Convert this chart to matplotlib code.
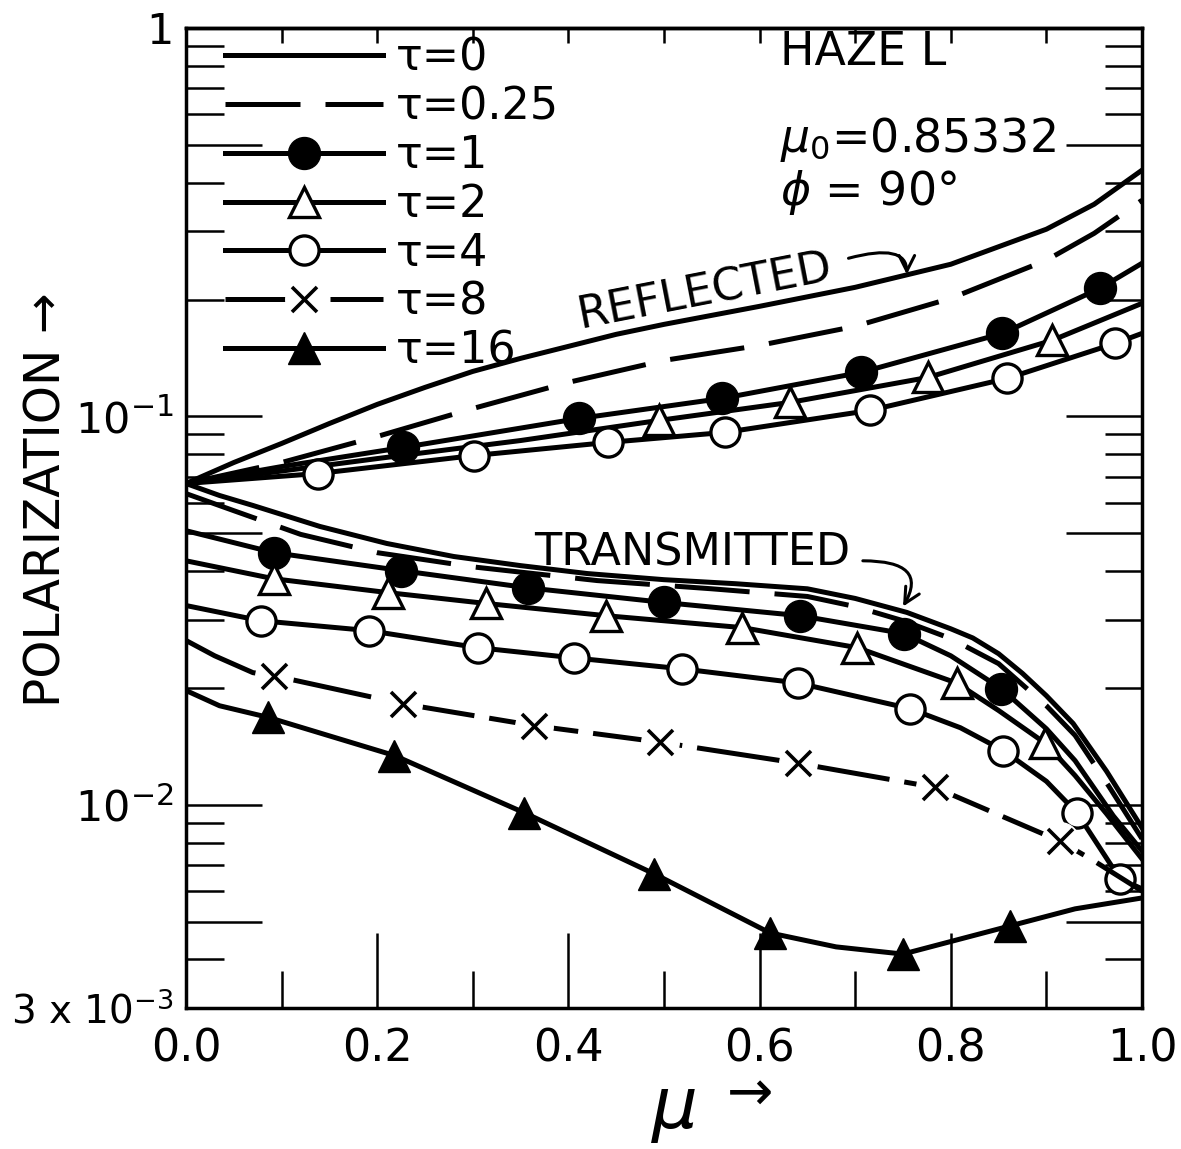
import numpy as np
import matplotlib.pyplot as plt
from matplotlib.ticker import (FixedLocator, FixedFormatter, LogLocator,
                               NullFormatter, MultipleLocator, FormatStrFormatter)
from matplotlib.legend_handler import HandlerTuple

plt.rcParams['font.family'] = ['DejaVu Sans']
plt.rcParams['mathtext.fontset'] = 'dejavusans'

# ---- reflected polarization ----
mu_r0 = [0, 0.05, 0.1, 0.15, 0.2, 0.25, 0.3, 0.35, 0.4, 0.45, 0.5, 0.6, 0.7, 0.8, 0.9, 0.95, 1.0]
p_r0 = [0.0672, 0.0761, 0.0852, 0.0959, 0.1074, 0.1188, 0.1306, 0.1411, 0.1515, 0.1627, 0.1726,
        0.1921, 0.2150, 0.2465, 0.3034, 0.3518, 0.4305]

mu_r025 = [0, 0.1, 0.2, 0.3, 0.4, 0.5, 0.6, 0.7, 0.8, 0.9, 0.95, 1.0]
p_r025 = [0.0672, 0.0761, 0.0888, 0.1048, 0.1224, 0.1394, 0.1524, 0.1706, 0.2014, 0.2524, 0.2961, 0.3602]

mu_r1 = [0, 0.1, 0.227, 0.411, 0.561, 0.706, 0.854, 0.956, 1.0]
p_r1 = [0.0672, 0.0743, 0.0832, 0.0988, 0.1113, 0.1298, 0.1636, 0.2137, 0.2479]
mk_r1 = [2, 3, 4, 5, 6, 7]

mu_r2 = [0, 0.2, 0.35, 0.495, 0.632, 0.776, 0.906, 1.0]
p_r2 = [0.0672, 0.0779, 0.0867, 0.0977, 0.1087, 0.1260, 0.1570, 0.1955]
mk_r2 = [3, 4, 5, 6]

mu_r4 = [0, 0.138, 0.301, 0.441, 0.564, 0.715, 0.859, 0.972, 1.0]
p_r4 = [0.0672, 0.0713, 0.0793, 0.0857, 0.0910, 0.1036, 0.1253, 0.1542, 0.1636]
mk_r4 = [1, 2, 3, 4, 5, 6, 7]

# ---- transmitted polarization ----
mu_t0 = [0, 0.035, 0.07, 0.14, 0.21, 0.28, 0.35, 0.42, 0.5, 0.575, 0.65, 0.7, 0.754, 0.8,
         0.823, 0.85, 0.875, 0.9, 0.928, 0.963, 1.0]
p_t0 = [0.0672, 0.0626, 0.0590, 0.0521, 0.0471, 0.0436, 0.0413, 0.0394, 0.0380, 0.0371, 0.0360,
        0.0340, 0.0313, 0.0284, 0.0269, 0.0245, 0.0218, 0.0191, 0.0162, 0.0122, 0.00873]

mu_t025 = [0, 0.05, 0.12, 0.2, 0.3, 0.43, 0.55, 0.65, 0.7, 0.75, 0.8, 0.85, 0.9, 0.93, 0.965, 1.0]
p_t025 = [0.0633, 0.0572, 0.0497, 0.0446, 0.0410, 0.0378, 0.0360, 0.0344, 0.0324, 0.0298, 0.0268,
          0.0231, 0.0180, 0.0151, 0.0112, 0.00818]

mu_t1 = [0, 0.092, 0.225, 0.358, 0.5, 0.642, 0.751, 0.8, 0.853, 0.9, 0.93, 0.97, 1.0]
p_t1 = [0.0508, 0.0446, 0.0401, 0.0362, 0.0332, 0.0307, 0.0276, 0.0242, 0.0199, 0.0157, 0.0130,
        0.00937, 0.00761]
mk_t1 = [1, 2, 3, 4, 5, 6, 8]

mu_t2 = [0, 0.092, 0.211, 0.314, 0.439, 0.582, 0.702, 0.806, 0.85, 0.899, 0.93, 0.963, 1.0]
p_t2 = [0.0425, 0.0382, 0.0352, 0.0330, 0.0307, 0.0286, 0.0254, 0.0206, 0.0175, 0.0144, 0.0119,
        0.00948, 0.00726]
mk_t2 = [1, 2, 3, 4, 5, 6, 7, 9]

mu_t4 = [0, 0.078, 0.191, 0.305, 0.406, 0.519, 0.640, 0.757, 0.81, 0.855, 0.9, 0.932, 0.977, 1.0]
p_t4 = [0.0326, 0.0298, 0.0281, 0.0254, 0.0239, 0.0224, 0.0206, 0.0177, 0.0158, 0.0138, 0.0115,
        0.00954, 0.00645, 0.00608]
mk_t4 = [1, 2, 3, 4, 5, 6, 7, 9, 11, 12]

mu_t8 = [0, 0.03, 0.07, 0.092, 0.227, 0.364, 0.496, 0.640, 0.783, 0.914, 0.95, 1.0]
p_t8 = [0.0265, 0.0242, 0.0219, 0.0215, 0.0182, 0.0160, 0.0145, 0.0128, 0.0111, 0.00807,
        0.00717, 0.00600]
mk_t8 = [3, 4, 5, 6, 7, 8, 9]

mu_t16 = [0, 0.035, 0.086, 0.218, 0.354, 0.490, 0.611, 0.68, 0.750, 0.862, 0.93, 1.0]
p_t16 = [0.0197, 0.0180, 0.0168, 0.0134, 0.00954, 0.00664, 0.00468, 0.00431, 0.00413,
         0.00488, 0.00540, 0.00576]
mk_t16 = [2, 3, 4, 5, 6, 8, 9]

legend_labels = ['τ=0', 'τ=0.25', 'τ=1', 'τ=2', 'τ=4', 'τ=8', 'τ=16']

y_major = [3e-3, 5e-3, 1e-2, 5e-2, 1e-1, 5e-1, 1]
y_labels = ['3 x 10$^{-3}$', '', '10$^{-2}$', '', '10$^{-1}$', '', '1']

lw = 3.6

fig = plt.figure(figsize=(11.81, 11.49), dpi=100)
ax = fig.add_axes([186/1181, 1 - 1008/1149, 956/1181, 980/1149])


def pick(a, idx):
    return np.asarray(a)[idx]


# tau = 0
l0, = ax.plot(mu_r0, p_r0, 'k-', lw=lw)
ax.plot(mu_t0, p_t0, 'k-', lw=lw)

# tau = 0.25
l025, = ax.plot(mu_r025, p_r025, 'k', lw=lw, dashes=(15, 5))
ax.plot(mu_t025, p_t025, 'k', lw=lw, dashes=(15, 5))

# tau = 1
l1, = ax.plot(mu_r1, p_r1, 'k-', lw=lw)
ax.plot(mu_t1, p_t1, 'k-', lw=lw)
m1, = ax.plot(pick(mu_r1, mk_r1), pick(p_r1, mk_r1), ls='none', marker='o', ms=23, mfc='k', mec='k')
ax.plot(pick(mu_t1, mk_t1), pick(p_t1, mk_t1), ls='none', marker='o', ms=23, mfc='k', mec='k')

# tau = 2
l2, = ax.plot(mu_r2, p_r2, 'k-', lw=lw)
ax.plot(mu_t2, p_t2, 'k-', lw=lw)
m2, = ax.plot(pick(mu_r2, mk_r2), pick(p_r2, mk_r2), ls='none', marker='^', ms=21, mfc='w', mec='k', mew=2.4)
ax.plot(pick(mu_t2, mk_t2), pick(p_t2, mk_t2), ls='none', marker='^', ms=21, mfc='w', mec='k', mew=2.4)

# tau = 4
l4, = ax.plot(mu_r4, p_r4, 'k-', lw=lw)
ax.plot(mu_t4, p_t4, 'k-', lw=lw)
m4, = ax.plot(pick(mu_r4, mk_r4), pick(p_r4, mk_r4), ls='none', marker='o', ms=21, mfc='w', mec='k', mew=2.4)
ax.plot(pick(mu_t4, mk_t4), pick(p_t4, mk_t4), ls='none', marker='o', ms=21, mfc='w', mec='k', mew=2.4)

# tau = 8
l8, = ax.plot(mu_t8, p_t8, 'k', lw=lw, dashes=(18, 3))
w8, = ax.plot(pick(mu_t8, mk_t8), pick(p_t8, mk_t8), ls='none', marker='o', ms=27, mfc='w', mec='w')
m8, = ax.plot(pick(mu_t8, mk_t8), pick(p_t8, mk_t8), ls='none', marker='x', ms=18, mec='k', mew=2.6)

# tau = 16
l16, = ax.plot(mu_t16, p_t16, 'k-', lw=lw)
m16, = ax.plot(pick(mu_t16, mk_t16), pick(p_t16, mk_t16), ls='none', marker='^', ms=23, mfc='k', mec='k')

ax.set_xlim(0, 1)
ax.set_yscale('log')
ax.set_ylim(3e-3, 1)

ax.yaxis.set_major_locator(FixedLocator(y_major))
ax.yaxis.set_major_formatter(FixedFormatter(y_labels))
ax.yaxis.set_minor_locator(LogLocator(base=10, subs=(2, 3, 4, 6, 7, 8, 9), numticks=20))
ax.yaxis.set_minor_formatter(NullFormatter())
ax.tick_params(axis='y', which='major', direction='in', length=55, width=1.8,
               left=True, right=True, labelsize=31, pad=9)
ax.tick_params(axis='y', which='minor', direction='in', length=27, width=1.8,
               left=True, right=True)

ax.xaxis.set_major_locator(MultipleLocator(0.2))
ax.xaxis.set_minor_locator(MultipleLocator(0.1))
ax.xaxis.set_major_formatter(FormatStrFormatter('%.1f'))
ax.tick_params(axis='x', which='major', direction='in', length=54, width=1.8,
               top=False, labelsize=32, pad=14)
ax.tick_params(axis='x', which='minor', direction='in', length=27, width=1.8, top=False)

top = ax.secondary_xaxis('top')
top.set_xticks(np.arange(0.1, 1.0, 0.1))
top.tick_params(direction='in', length=11, width=1.8, labeltop=False)
top.spines['top'].set_linewidth(2.5)

for s in ax.spines.values():
    s.set_linewidth(2.5)

# the bottom "3 x 10^-3" label is a little smaller so it fits the page
fig.canvas.draw()
ax.get_yticklabels()[0].set_fontsize(28)

ax.legend(handles=[l0, l025, (l1, m1), (l2, m2), (l4, m4), (l8, w8, m8), (l16, m16)],
          labels=legend_labels,
          handler_map={tuple: HandlerTuple(ndivide=1, pad=0)},
          loc='upper left', bbox_to_anchor=(0.041, 0.991), frameon=False,
          fontsize=32, handlelength=3.55, handletextpad=0.3, labelspacing=0.13,
          borderpad=0, borderaxespad=0, numpoints=1)

# annotations
ax.text(0.621, 0.9755, 'HAZE L', transform=ax.transAxes, fontsize=33, ha='left', va='center')
ax.text(0.621, 0.886, r'$\mu_0$=0.85332', transform=ax.transAxes, fontsize=33, ha='left', va='center')
ax.text(0.621, 0.832, r'$\phi$ = 90°', transform=ax.transAxes, fontsize=33, ha='left', va='center')

ax.text(0.543, 0.731, 'REFLECTED', transform=ax.transAxes, fontsize=32,
        rotation=11, ha='center', va='center', rotation_mode='anchor')
ax.text(0.529, 0.464, 'TRANSMITTED', transform=ax.transAxes, fontsize=32,
        ha='center', va='center')

ax.annotate('', xy=(0.754, 0.232), xytext=(0.693, 0.2554),
            arrowprops=dict(arrowstyle='->', lw=2.2, color='k', shrinkA=0, shrinkB=0,
                            mutation_scale=28,
                            connectionstyle='angle3,angleA=15,angleB=90'))
ax.annotate('', xy=(0.750, 0.0324), xytext=(0.708, 0.0425),
            arrowprops=dict(arrowstyle='->', lw=2.2, color='k', shrinkA=0, shrinkB=0,
                            mutation_scale=28,
                            connectionstyle='angle3,angleA=0,angleB=60'))

# axis labels
ax.text(0.51, -0.105, r'$\mu$', transform=ax.transAxes, fontsize=52, ha='center', va='center')
ax.text(0.59, -0.088, '→', transform=ax.transAxes, fontsize=40, ha='center', va='center')
fig.text(47/1181, 1 - 500/1149, 'POLARIZATION →', rotation=90, fontsize=35,
         ha='center', va='center')

fig.savefig('out.png', dpi=100)
